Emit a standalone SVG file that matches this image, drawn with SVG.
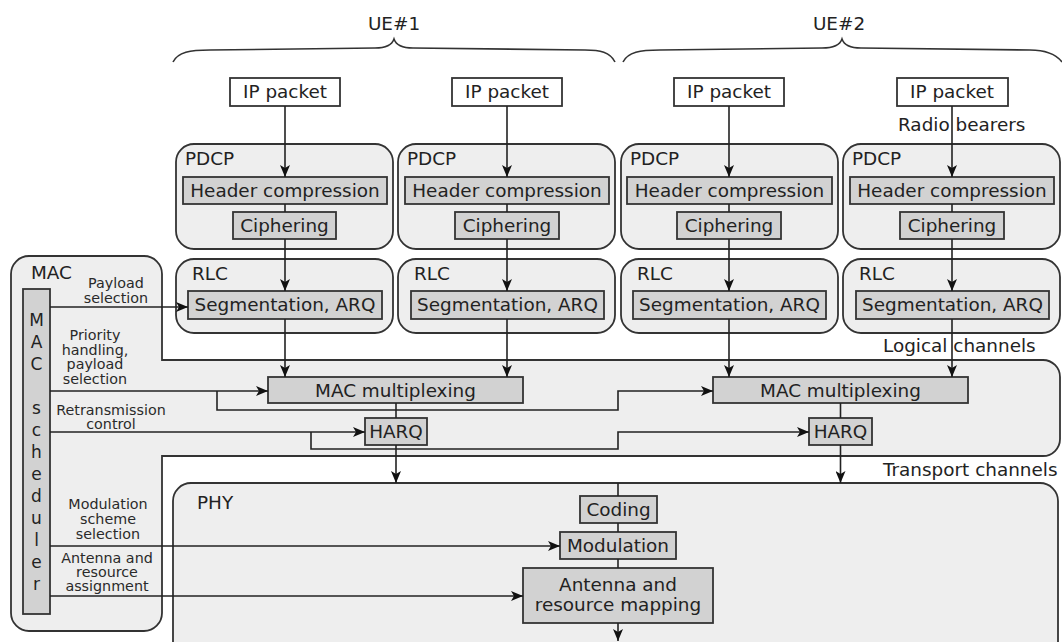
<svg xmlns="http://www.w3.org/2000/svg" width="1062" height="642" viewBox="0 0 1062 642">
<style>
.region{fill:#eeeeee;stroke:#333;stroke-width:1.8}
.box{fill:#d2d2d2;stroke:#333;stroke-width:1.8}
.wbox{fill:#ffffff;stroke:#333;stroke-width:1.8}
.t{font-family:"DejaVu Sans",sans-serif;font-size:18.4px;fill:#222}
.c{text-anchor:middle}
.s{font-size:14.3px;fill:#2a2a2a}
.ln{fill:none;stroke:#222;stroke-width:1.6}
.arr{marker-end:url(#ah)}
.brace{fill:none;stroke:#333;stroke-width:1.6}
</style>
<defs>
<marker id="ah" markerUnits="userSpaceOnUse" markerWidth="12" markerHeight="10" refX="12" refY="5" orient="auto">
<path d="M0,0 L12,5 L0,10 L3,5 Z" fill="#111"/>
</marker>
</defs>
<rect width="1062" height="642" fill="#ffffff"/>

<g id="ue1">
<path class="brace" d="M173,62 C178,52 190,50 210,50 L375,48 C385,48 392,45 394,39 C396,45 403,48 413,48 L585,50 C600,50 610,52 615,62"/>
<text class="t c" x="394" y="30">UE#1</text>
</g>
<g id="ue2">
<path class="brace" d="M623,62 C628,52 640,50 660,50 L822,48 C832,48 840,45 842,39 C844,45 851,48 861,48 L1030,50 C1045,50 1055,53 1062,62"/>
<text class="t c" x="839" y="30">UE#2</text>
</g>

<g id="mac">
<path class="region" d="M29,256 H144 A18,18 0 0 1 162,274 V360 H1043 A17,17 0 0 1 1060,377 V439 A17,17 0 0 1 1043,456 H162 V613 A18,18 0 0 1 144,631 H29 A18,18 0 0 1 11,613 V274 A18,18 0 0 1 29,256 Z"/>
<text class="t" x="31" y="279">MAC</text>
</g>
<g id="phy">
<rect class="region" x="173" y="483" width="885" height="200" rx="18"/>
<text class="t" x="197" y="509">PHY</text>
</g>

<g id="mac-scheduler">
<rect class="box" x="23" y="289" width="27" height="325"/>
<g class="t c" style="font-size:17px">
<text x="36.5" y="326">M</text>
<text x="36.5" y="348">A</text>
<text x="36.5" y="370">C</text>
<text x="36.5" y="414">s</text>
<text x="36.5" y="436">c</text>
<text x="36.5" y="458">h</text>
<text x="36.5" y="480">e</text>
<text x="36.5" y="502">d</text>
<text x="36.5" y="524">u</text>
<text x="36.5" y="546">l</text>
<text x="36.5" y="568">e</text>
<text x="36.5" y="590">r</text>
</g>
</g>

<g id="ip1"><rect class="wbox" x="230" y="78" width="110" height="28"/><text class="t c" x="285" y="98">IP packet</text></g>
<g id="ip2"><rect class="wbox" x="452" y="78" width="110" height="28"/><text class="t c" x="507" y="98">IP packet</text></g>
<g id="ip3"><rect class="wbox" x="674" y="78" width="110" height="28"/><text class="t c" x="729" y="98">IP packet</text></g>
<g id="ip4"><rect class="wbox" x="897" y="78" width="111" height="28"/><text class="t c" x="952" y="98">IP packet</text></g>

<g id="pdcp1">
<rect class="region" x="176" y="144" width="217" height="105" rx="18"/>
<text class="t" x="185" y="165">PDCP</text>
<rect class="box" x="183" y="177" width="204" height="27"/><text class="t c" x="285" y="197">Header compression</text>
<rect class="box" x="233" y="212" width="103" height="27"/><text class="t c" x="284.5" y="232">Ciphering</text>
</g>
<g id="pdcp2">
<rect class="region" x="398" y="144" width="217" height="105" rx="18"/>
<text class="t" x="407" y="165">PDCP</text>
<rect class="box" x="405" y="177" width="204" height="27"/><text class="t c" x="507" y="197">Header compression</text>
<rect class="box" x="455" y="212" width="104" height="27"/><text class="t c" x="507" y="232">Ciphering</text>
</g>
<g id="pdcp3">
<rect class="region" x="621" y="144" width="217" height="105" rx="18"/>
<text class="t" x="630" y="165">PDCP</text>
<rect class="box" x="627" y="177" width="205" height="27"/><text class="t c" x="729.5" y="197">Header compression</text>
<rect class="box" x="677" y="212" width="104" height="27"/><text class="t c" x="729" y="232">Ciphering</text>
</g>
<g id="pdcp4">
<rect class="region" x="843" y="144" width="217" height="105" rx="18"/>
<text class="t" x="852" y="165">PDCP</text>
<rect class="box" x="850" y="177" width="204" height="27"/><text class="t c" x="952" y="197">Header compression</text>
<rect class="box" x="900" y="212" width="104" height="27"/><text class="t c" x="952" y="232">Ciphering</text>
</g>

<g id="rlc1">
<rect class="region" x="176" y="259" width="217" height="74" rx="18"/>
<text class="t" x="192" y="280">RLC</text>
<rect class="box" x="188" y="291" width="194" height="28"/><text class="t c" x="285" y="311">Segmentation, ARQ</text>
</g>
<g id="rlc2">
<rect class="region" x="398" y="259" width="217" height="74" rx="18"/>
<text class="t" x="414" y="280">RLC</text>
<rect class="box" x="411" y="291" width="193" height="28"/><text class="t c" x="507.5" y="311">Segmentation, ARQ</text>
</g>
<g id="rlc3">
<rect class="region" x="621" y="259" width="217" height="74" rx="18"/>
<text class="t" x="637" y="280">RLC</text>
<rect class="box" x="633" y="291" width="193" height="28"/><text class="t c" x="729.5" y="311">Segmentation, ARQ</text>
</g>
<g id="rlc4">
<rect class="region" x="843" y="259" width="217" height="74" rx="18"/>
<text class="t" x="859" y="280">RLC</text>
<rect class="box" x="856" y="291" width="193" height="28"/><text class="t c" x="952.5" y="311">Segmentation, ARQ</text>
</g>

<g id="mux1"><rect class="box" x="268" y="377" width="255" height="26"/><text class="t c" x="395.5" y="397">MAC multiplexing</text></g>
<g id="mux2"><rect class="box" x="713" y="377" width="255" height="26"/><text class="t c" x="840.5" y="397">MAC multiplexing</text></g>
<g id="harq1"><rect class="box" x="365" y="418" width="62" height="27"/><text class="t c" x="396" y="438">HARQ</text></g>
<g id="harq2"><rect class="box" x="809" y="418" width="63" height="27"/><text class="t c" x="840.5" y="438">HARQ</text></g>

<g id="coding"><rect class="box" x="580" y="496" width="77" height="27"/><text class="t c" x="618.5" y="516">Coding</text></g>
<g id="modulation"><rect class="box" x="560" y="532" width="116" height="27"/><text class="t c" x="618" y="552">Modulation</text></g>
<g id="antenna"><rect class="box" x="523" y="568" width="190" height="55"/><text class="t c" x="618" y="591">Antenna and</text><text class="t c" x="618" y="611">resource mapping</text></g>

<g id="labels">
<text class="t" x="898" y="131">Radio bearers</text>
<text class="t" x="883" y="352">Logical channels</text>
<text class="t" x="883" y="476">Transport channels</text>
<g class="t s c">
<text x="116" y="288">Payload</text>
<text x="116" y="303">selection</text>
<text x="95" y="340">Priority</text>
<text x="95" y="354.5">handling,</text>
<text x="95" y="369">payload</text>
<text x="95" y="383.5">selection</text>
<text x="111" y="415">Retransmission</text>
<text x="111" y="429">control</text>
<text x="108" y="509">Modulation</text>
<text x="108" y="524">scheme</text>
<text x="108" y="539">selection</text>
<text x="107" y="563">Antenna and</text>
<text x="107" y="577">resource</text>
<text x="107" y="591">assignment</text>
</g>
</g>

<g id="connectors">
<path class="ln arr" d="M285,106 V177"/>
<path class="ln arr" d="M507,106 V177"/>
<path class="ln arr" d="M729,106 V177"/>
<path class="ln arr" d="M952,106 V177"/>
<path class="ln" d="M285,204 V212"/>
<path class="ln" d="M507,204 V212"/>
<path class="ln" d="M729,204 V212"/>
<path class="ln" d="M952,204 V212"/>
<path class="ln arr" d="M285,239 V291"/>
<path class="ln arr" d="M507,239 V291"/>
<path class="ln arr" d="M729,239 V291"/>
<path class="ln arr" d="M952,239 V291"/>
<path class="ln arr" d="M285,319 V377"/>
<path class="ln arr" d="M507,319 V377"/>
<path class="ln arr" d="M729,319 V377"/>
<path class="ln arr" d="M952,319 V377"/>
<path class="ln" d="M396,403 V418"/>
<path class="ln" d="M840.5,403 V418"/>
<path class="ln arr" d="M396,445 V483"/>
<path class="ln arr" d="M840.5,445 V483"/>
<path class="ln" d="M618,483 V496"/>
<path class="ln" d="M618,523 V532"/>
<path class="ln" d="M618,559 V568"/>
<path class="ln arr" d="M618,623 V641"/>
<path class="ln arr" d="M50,307 H188"/>
<path class="ln arr" d="M50,391 H268"/>
<path class="ln arr" d="M217,391 V410 H618 V391 H713"/>
<path class="ln arr" d="M50,432 H365"/>
<path class="ln arr" d="M311,432 V449 H618 V432 H809"/>
<path class="ln arr" d="M50,546 H560"/>
<path class="ln arr" d="M50,596 H523"/>
</g>
</svg>
